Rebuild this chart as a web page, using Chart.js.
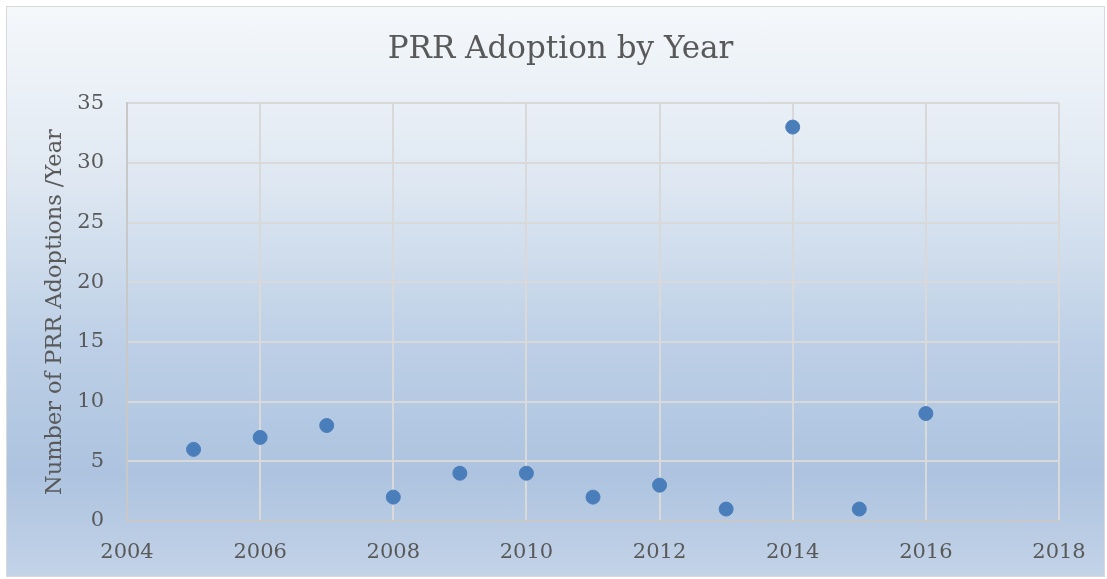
<!DOCTYPE html>
<html>
<head>
<meta charset="utf-8">
<script src="https://cdn.jsdelivr.net/npm/chart.js@4"></script>
<style>
  html, body { margin: 0; padding: 0; background: #fff; }
  #frame {
    position: absolute; left: 6px; top: 6px; width: 1099px; height: 571px;
    box-sizing: border-box; border: 1px solid #d9d9d9;
    background: linear-gradient(to bottom, #f5f8fb 0%, #dfe8f2 30%, #bccfe6 60%, #adc3df 82%, #c3d3e8 100%);
  }
  #wrap { position: absolute; left: 0; top: 0; width: 1107px; height: 579px; }
</style>
</head>
<body>
<div id="frame"></div>
<div id="wrap"><canvas id="chart" width="1107" height="579"></canvas></div>
<script>
const years     = [2005, 2006, 2007, 2008, 2009, 2010, 2011, 2012, 2013, 2014, 2015, 2016];
const adoptions = [6, 7, 8, 2, 4, 4, 2, 3, 1, 33, 1, 9];

const textColor = '#595959';
const fontFamily = '"DejaVu Serif", serif';

document.addEventListener('DOMContentLoaded', () => {
  new Chart(document.getElementById('chart'), {
    type: 'scatter',
    data: {
      datasets: [{
        label: 'PRR Adoptions',
        data: years.map((y, i) => ({ x: y, y: adoptions[i] })),
        backgroundColor: '#4a7ebb',
        borderColor: '#4a7ebb',
        pointRadius: 7,
        pointHoverRadius: 7
      }]
    },
    options: {
      responsive: false,
      animation: false,
      // left padding kept wide so the title centres where the original does
      layout: { padding: { left: 62, right: 48, top: 6, bottom: 0 } },
      plugins: {
        legend: { display: false },
        tooltip: { enabled: false },
        title: {
          display: true,
          text: 'PRR Adoption by Year',
          color: textColor,
          font: { family: fontFamily, size: 31, weight: 'normal' },
          padding: { top: 25, bottom: 35 }
        }
      },
      scales: {
        x: {
          type: 'linear',
          min: 2004, max: 2018,
          grid: { color: '#d9d9d9', lineWidth: 2, drawTicks: false },
          border: { color: '#c8c8c8', width: 2 },
          ticks: {
            stepSize: 2, padding: 19, color: textColor,
            font: { family: fontFamily, size: 21 },
            callback: v => String(v)
          },
          afterFit: s => { s.height = 58; }
        },
        y: {
          min: 0, max: 35,
          grid: { color: '#d9d9d9', lineWidth: 2, drawTicks: false },
          border: { color: '#c8c8c8', width: 2 },
          ticks: {
            stepSize: 5, padding: 23, color: textColor,
            font: { family: fontFamily, size: 21 }
          },
          title: {
            display: true,
            text: 'Number of PRR Adoptions /Year',
            color: textColor,
            font: { family: fontFamily, size: 22.5 },
            padding: { top: -20, bottom: 0 }
          },
          afterFit: s => { s.width = 65; }
        }
      }
    }
  });
});
</script>
</body>
</html>
